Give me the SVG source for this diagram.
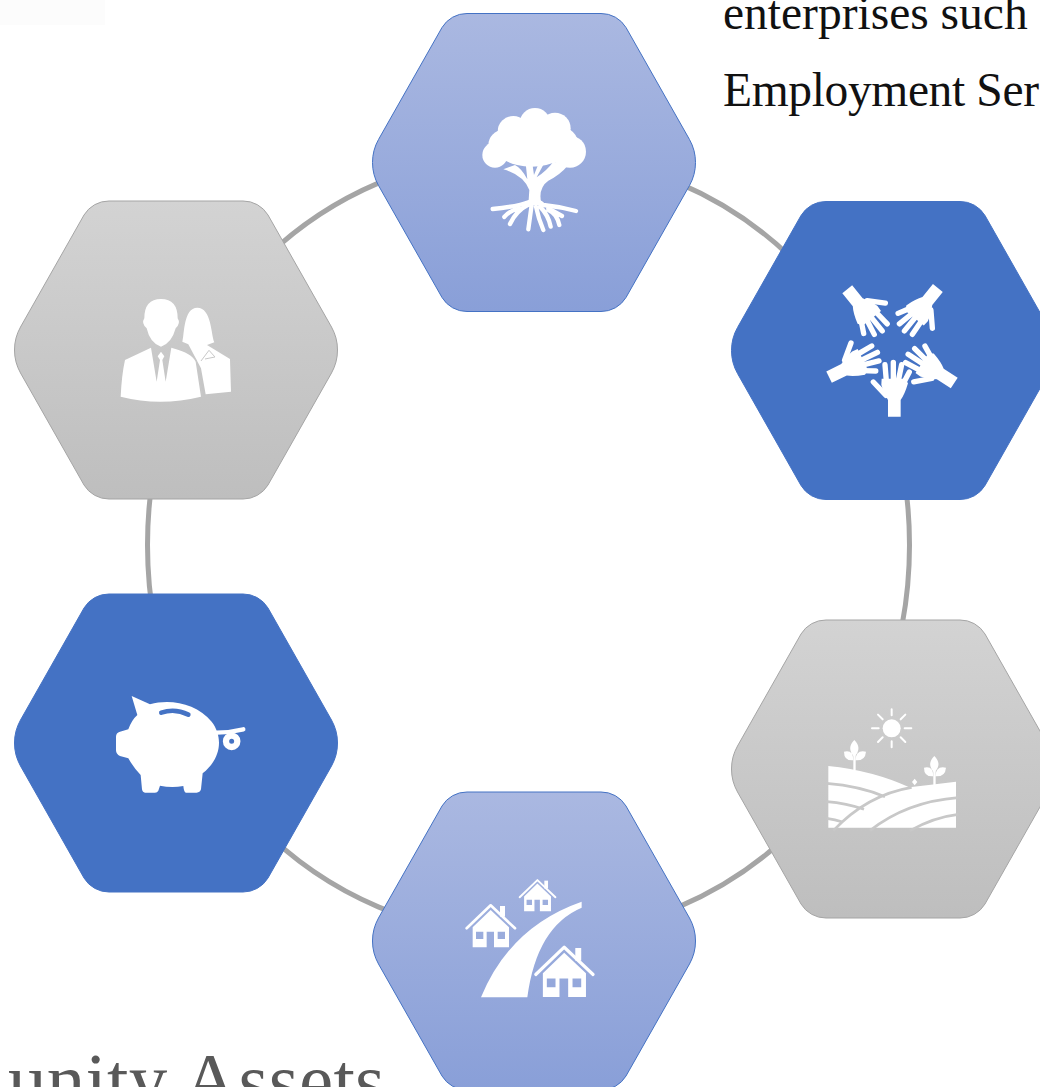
<svg xmlns="http://www.w3.org/2000/svg" width="1040" height="1087" viewBox="0 0 1040 1087">
<style>
.hex{stroke-width:1}
.lb{fill:url(#gb);stroke:#4472c4}
.gr{fill:url(#gg);stroke:#a5a5a5}
.bl{fill:#4472c4;stroke:#4472c4}
.w{fill:#fff}
.ws{fill:none;stroke:#fff;stroke-linecap:round;stroke-linejoin:round}
.body{font-family:"Liberation Serif",Georgia,serif;font-size:47.5px;fill:#111}
.title{font-family:"Liberation Serif",Georgia,serif;font-size:77px;fill:#595959}
</style>
<defs>
<linearGradient id="gb" x1="0" y1="0" x2="0" y2="1"><stop offset="0" stop-color="#aab8e1"/><stop offset="1" stop-color="#899fd8"/></linearGradient>
<linearGradient id="gg" x1="0" y1="0" x2="0" y2="1"><stop offset="0" stop-color="#d3d3d3"/><stop offset="1" stop-color="#bebebe"/></linearGradient>
<path id="h" d="M-67,-149 H67 A29,29 0 0 1 92,-135 L155.500,-23 A47,47 0 0 1 155.500,23 L92,135 A29,29 0 0 1 67,149 H-67 A29,29 0 0 1 -92,135 L-155.500,23 A47,47 0 0 1 -155.500,-23 L-92,-135 A29,29 0 0 1 -67,-149 Z"/>
<g id="hand">
<path class="w" d="M-16,166 V216 H22 V166 Q34,150 44,116 L35,102 L-35,102 L-36,120 L-30,140 Z"/>
<path class="ws" stroke-width="16" d="M-25,60 L-21,108 M0,53 V108 M25,60 L15,108 M48,82 L28,120 M-60,112 L-22,152"/>
</g>
<g id="house">
<path class="ws" stroke-width="8" stroke-linecap="butt" d="M50,175 L122,106 L195,175"/>
<rect class="w" x="150" y="108" width="15" height="32"/>
<path class="w" fill-rule="evenodd" d="M68,172 L122,120 L177,172 V232 H132 V185 H110 V232 H68 Z M78,185 V207 H100 V185 Z M143,185 V207 H165 V185 Z"/>
</g>
<g id="plant"><path class="w" d="M133,120 Q158,145 133,170 Q108,145 133,120 Z M102,155 Q130,148 130,181 Q102,183 102,155 Z M168,155 Q138,148 136,181 Q166,183 168,155 Z"/><rect class="w" x="130" y="165" width="7" height="45"/></g>
</defs>
<rect id="top-haze" x="0" y="0" width="105" height="25" fill="#fcfcfc"/>
<g id="connectors"><path fill="none" stroke="#a5a5a5" stroke-width="5" d="M147.500,545 C147.500,323.500 313.500,153 528.500,153 C743.500,153 909.500,323.500 909.500,545 C909.500,766.500 743.500,937 528.500,937 C313.500,937 147.500,766.500 147.500,545 Z"/></g>
<g id="node-tree">
<use href="#h" x="534" y="162.500" class="hex lb"/>
<g transform="translate(460,90) scale(0.3333)">
<g class="w"><circle cx="105" cy="195" r="38"/><circle cx="130" cy="165" r="45"/><circle cx="160" cy="125" r="47"/><circle cx="225" cy="100" r="46"/><circle cx="285" cy="115" r="47"/><circle cx="330" cy="185" r="48"/><circle cx="300" cy="165" r="55"/><ellipse cx="215" cy="165" rx="115" ry="65"/></g>
<path class="w" d="M130,238 Q190,255 208,300 L205,345 L245,345 Q232,295 265,272 Q300,255 325,225 L280,215 Q262,240 230,262 L255,215 L238,215 L222,255 L217,220 L197,220 L202,268 Q185,235 165,225 Z"/>
<g class="ws" stroke-width="13"><path d="M98,357 Q170,350 210,335 Q235,330 250,345 Q300,350 348,363"/><path d="M208,342 Q168,362 150,402 M180,355 Q150,360 133,381 M215,345 L205,418 M228,350 Q235,385 250,420 M240,350 Q265,375 272,410 M265,360 Q290,370 298,405 M265,355 L306,378"/></g>
</g>
</g>
<g id="node-hands">
<use href="#h" x="893" y="350.500" class="hex bl"/>
<g transform="translate(810,275) scale(0.3333) translate(250,209)">
<use href="#hand"/><use href="#hand" transform="rotate(64)"/><use href="#hand" transform="rotate(141)"/><use href="#hand" transform="rotate(219)"/><use href="#hand" transform="rotate(303)"/>
</g>
</g>
<g id="node-farm">
<use href="#h" x="893" y="769" class="hex gr"/>
<g transform="translate(810,700) scale(0.3333)">
<circle class="w" cx="245" cy="85" r="27"/>
<path class="ws" stroke-width="6" stroke-linecap="butt" d="M245,28 V46 M245,124 V142 M186,85 H206 M284,85 H304 M204,44 L218,58 M272,112 L286,126 M286,44 L272,58 M218,112 L204,126"/>
<path class="w" d="M55,198 Q190,212 298,262 Q370,253 438,245 V383 H55 Z"/>
<path fill="none" stroke="#c8c8c8" stroke-width="8" d="M50,250 Q150,258 225,290 M50,305 Q110,310 162,328 M50,355 Q75,358 98,366 M70,392 Q170,285 305,262 M180,392 Q290,305 445,293 M300,392 Q370,352 445,343"/>
<path class="w" d="M314,236 L322,246 L314,256 L306,246 Z"/>
<use href="#plant"/>
<use href="#plant" transform="translate(240,48)"/>
</g>
</g>
<g id="node-houses">
<use href="#h" x="534" y="941" class="hex lb"/>
<g transform="translate(450,870) scale(0.3333)">
<path class="w" d="M93,382 Q180,170 395,95 V113 Q260,170 232,382 Z"/>
<use href="#house"/>
<use href="#house" transform="translate(172,-48) scale(0.74)"/>
<use href="#house" transform="translate(198,106) scale(1.186)"/>
</g>
</g>
<g id="node-pig">
<use href="#h" x="176" y="743" class="hex bl"/>
<g transform="translate(100,680) scale(0.3333)">
<path class="w" d="M95,48 L150,73 C210,55 290,70 335,125 C370,170 365,235 308,280 L303,328 Q300,338 290,338 H258 Q252,338 250,318 Q215,325 180,317 L175,332 Q172,338 165,338 H135 Q128,338 126,328 L122,285 Q100,262 85,235 L60,228 Q48,222 48,210 V170 Q48,158 60,155 L85,148 Q95,120 112,105 Z"/>
<path fill="none" stroke="#4472c4" stroke-width="14" stroke-linecap="round" d="M184,98 Q225,84 265,104"/>
<path class="ws" stroke-width="13" d="M350,158 Q390,158 430,148"/>
<circle cx="395" cy="184" r="17" fill="none" stroke="#fff" stroke-width="19"/>
</g>
</g>
<g id="node-people">
<use href="#h" x="176" y="350" class="hex gr"/>
<g transform="translate(105,285) scale(0.3333)">
<path class="w" d="M232,170 C238,150 235,68 277,68 C320,68 318,150 328,172 L306,180 L375,222 L378,320 L302,328 L288,250 L250,178 Z"/>
<path fill="none" stroke="#c8c8c8" stroke-width="3" d="M288,228 L312,196 L330,216 L300,222"/>
<path fill="none" stroke="#c8c8c8" stroke-width="5" d="M240,178 L272,226 L292,335"/>
<path class="w" d="M118,100 Q118,42 168,42 Q218,42 218,100 Q228,115 212,130 Q200,175 168,185 Q135,175 125,130 Q108,115 118,100 Z"/>
<path class="w" d="M138,188 L60,225 Q50,270 47,335 Q165,365 288,335 L272,230 Q262,205 199,188 L182,290 L172,225 L178,214 L168,200 L158,214 L165,225 L155,290 Z"/>
</g>
</g>
<g id="labels">
<text class="body" x="723" y="29">enterprises such</text>
<text class="body" x="723" y="106" textLength="316">Employment Ser</text>
<text class="title" x="8" y="1106" textLength="377">unity Assets</text>
</g>
</svg>
